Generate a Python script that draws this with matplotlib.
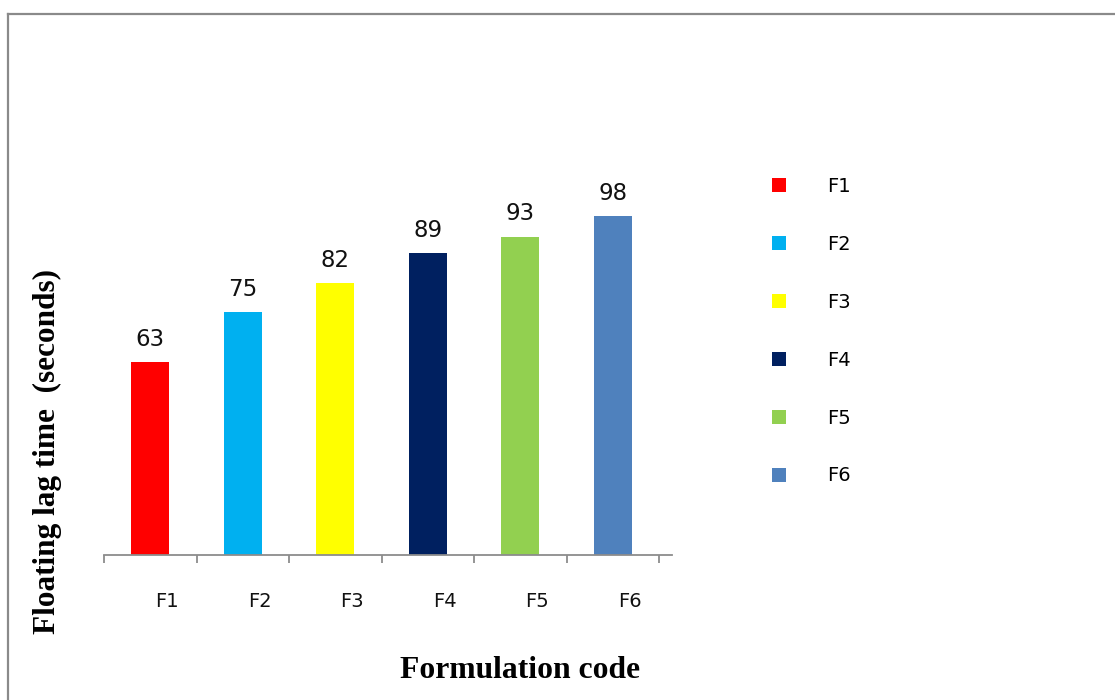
import matplotlib
matplotlib.use("Agg")
import matplotlib.pyplot as plt
from matplotlib.patches import Patch
from matplotlib.lines import Line2D
from matplotlib.transforms import ScaledTranslation

# Floating lag time per formulation
categories = ["F1", "F2", "F3", "F4", "F5", "F6"]
lag_time = [63, 75, 82, 89, 93, 98]
colors = ["#FF0000", "#00B0F0", "#FFFF00", "#002060", "#92D050", "#4F81BD"]

W, H = 1115, 700
fig = plt.figure(figsize=(W / 100, H / 100), dpi=100)
fig.patch.set_facecolor("white")

# outer chart frame (left and top edges)
frame_kw = dict(color="#8a8a8a", linewidth=1.6, transform=fig.transFigure)
fig.add_artist(Line2D([8 / W, 8 / W], [-0.01, 1 - 14 / H], **frame_kw))
fig.add_artist(Line2D([8 / W, 1.01], [1 - 14 / H, 1 - 14 / H], **frame_kw))

ax_left, ax_right = 104, 672
ax_bottom, ax_top = 555, 100
ax = fig.add_axes([ax_left / W, 1 - ax_bottom / H,
                   (ax_right - ax_left) / W, (ax_bottom - ax_top) / H])

x = list(range(len(categories)))
bars = ax.bar(x, lag_time, width=0.41, color=colors, zorder=2)

ax.set_xlim(-0.5, 5.64)
ax.set_ylim(17, 125.6)

for rect, v in zip(bars, lag_time):
    ax.annotate(str(v), (rect.get_x() + rect.get_width() / 2, v),
                xytext=(0, 8), textcoords="offset points",
                ha="center", va="bottom", fontsize=16.5, color="#111111")

for side in ("left", "right", "top"):
    ax.spines[side].set_visible(False)
ax.spines["bottom"].set_color("#8c8c8c")
ax.spines["bottom"].set_linewidth(1.3)
ax.set_yticks([])

# ticks at category boundaries, labels on minor ticks at centres
ax.set_xticks([i - 0.5 for i in range(len(categories) + 1)])
ax.set_xticklabels([])
ax.tick_params(axis="x", which="major", direction="out", length=6,
               width=1.3, color="#8c8c8c")
ax.set_xticks(x, minor=True)
ax.set_xticklabels(categories, minor=True, fontsize=14, color="#111111")
ax.tick_params(axis="x", which="minor", length=0, pad=26.5)
shift = ScaledTranslation(17 / 100, 0, fig.dpi_scale_trans)
for lab in ax.get_xticklabels(minor=True):
    lab.set_transform(lab.get_transform() + shift)

fig.text(520 / W, 1 - 671 / H, "Formulation code", ha="center", va="center",
         fontsize=22.8, fontweight="bold", family="Liberation Serif")
fig.text(47 / W, 1 - 452 / H, "Floating lag time  (seconds)", ha="center",
         va="center", rotation=90, fontsize=22.5, fontweight="bold",
         family="Liberation Serif")

handles = [Patch(facecolor=c, edgecolor="none") for c in colors]
fig.legend(handles, categories, loc="upper left",
           bbox_to_anchor=(772 / W, 1 - 177 / H), frameon=False,
           fontsize=14, handlelength=0.72, handleheight=0.72,
           handletextpad=2.1, labelspacing=2.0, borderpad=0,
           borderaxespad=0)

fig.savefig("out.png", dpi=100)
